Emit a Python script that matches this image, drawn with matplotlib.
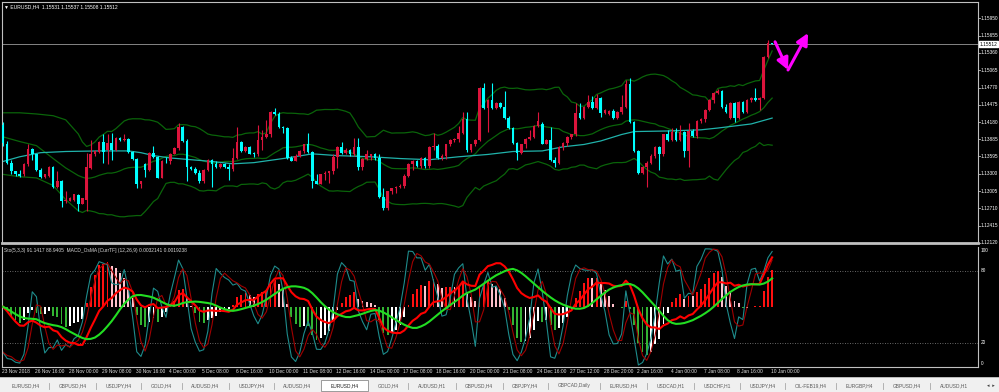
import numpy as np
import pandas as pd
import matplotlib
matplotlib.use("Agg")
import matplotlib.pyplot as plt
from matplotlib.transforms import blended_transform_factory as blend
from matplotlib.patches import Rectangle

plt.rcParams['font.family'] = ['Liberation Sans', 'DejaVu Sans']

# EURUSD H4 candles, 23 Nov 2018 -> 10 Jan 2019
opens = [1.1414, 1.1380, 1.1349, 1.1334, 1.1330, 1.1329, 1.1346, 1.1373, 1.1363, 1.1337,
         1.1325, 1.1327, 1.1342, 1.1308, 1.1318, 1.1283, 1.1284, 1.1286, 1.1293, 1.1279,
         1.1286, 1.1340, 1.1363, 1.1368, 1.1385, 1.1371, 1.1383, 1.1371, 1.1391, 1.1388,
         1.1390, 1.1368, 1.1356, 1.1313, 1.1347, 1.1337, 1.1366, 1.1359, 1.1323, 1.1352,
         1.1351, 1.1364, 1.1374, 1.1410, 1.1386, 1.1342, 1.1339, 1.1332, 1.1317, 1.1337,
         1.1354, 1.1347, 1.1342, 1.1347, 1.1342, 1.1339, 1.1357, 1.1385, 1.1369, 1.1376,
         1.1366, 1.1364, 1.1388, 1.1393, 1.1397, 1.1436, 1.1432, 1.1410, 1.1408, 1.1357,
         1.1352, 1.1361, 1.1369, 1.1380, 1.1368, 1.1317, 1.1313, 1.1329, 1.1332, 1.1334,
         1.1359, 1.1376, 1.1366, 1.1371, 1.1363, 1.1376, 1.1342, 1.1356, 1.1361, 1.1363,
         1.1357, 1.1291, 1.1272, 1.1300, 1.1305, 1.1308, 1.1310, 1.1327, 1.1347, 1.1351,
         1.1344, 1.1357, 1.1344, 1.1376, 1.1378, 1.1357, 1.1361, 1.1380, 1.1388, 1.1390,
         1.1400, 1.1424, 1.1371, 1.1380, 1.1388, 1.1476, 1.1442, 1.1456, 1.1442, 1.1451,
         1.1444, 1.1425, 1.1408, 1.1383, 1.1366, 1.1380, 1.1390, 1.1393, 1.1412, 1.1415,
         1.1381, 1.1388, 1.1354, 1.1349, 1.1376, 1.1383, 1.1393, 1.1397, 1.1434, 1.1425,
         1.1444, 1.1453, 1.1442, 1.1459, 1.1434, 1.1432, 1.1437, 1.1425, 1.1436, 1.1444,
         1.1483, 1.1419, 1.1369, 1.1332, 1.1342, 1.1349, 1.1361, 1.1376, 1.1363, 1.1397,
         1.1388, 1.1402, 1.1388, 1.1402, 1.1369, 1.1403, 1.1395, 1.1420, 1.1424, 1.1439,
         1.1456, 1.1468, 1.1471, 1.1444, 1.1425, 1.1451, 1.1425, 1.1453, 1.1436, 1.1456,
         1.1459, 1.1456, 1.1459, 1.1529, 1.15531]
highs = [1.1419, 1.1386, 1.1354, 1.1335, 1.1337, 1.1349, 1.1381, 1.1374, 1.1364, 1.1340,
         1.1330, 1.1344, 1.1344, 1.1334, 1.1320, 1.1301, 1.1291, 1.1296, 1.1296, 1.1289,
         1.1366, 1.1388, 1.1371, 1.1386, 1.1398, 1.1398, 1.1400, 1.1393, 1.1393, 1.1398,
         1.1391, 1.1369, 1.1357, 1.1318, 1.1349, 1.1368, 1.1378, 1.1361, 1.1354, 1.1359,
         1.1366, 1.1376, 1.1417, 1.1412, 1.1390, 1.1344, 1.1342, 1.1337, 1.1339, 1.1356,
         1.1356, 1.1351, 1.1349, 1.1349, 1.1346, 1.1374, 1.1410, 1.1386, 1.1378, 1.1378,
         1.1368, 1.1414, 1.1405, 1.1422, 1.1437, 1.1442, 1.1436, 1.1412, 1.1410, 1.1361,
         1.1363, 1.1371, 1.1381, 1.1400, 1.1369, 1.1329, 1.1330, 1.1334, 1.1334, 1.1363,
         1.1378, 1.1385, 1.1374, 1.1373, 1.1391, 1.1391, 1.1357, 1.1371, 1.1364, 1.1366,
         1.1363, 1.1305, 1.1301, 1.1306, 1.1310, 1.1312, 1.1329, 1.1349, 1.1354, 1.1354,
         1.1359, 1.1359, 1.1378, 1.1400, 1.1380, 1.1363, 1.1381, 1.1390, 1.1391, 1.1412,
         1.1436, 1.1436, 1.1381, 1.1390, 1.1478, 1.1485, 1.1458, 1.1485, 1.1453, 1.1453,
         1.1471, 1.1429, 1.1410, 1.1385, 1.1381, 1.1391, 1.1405, 1.1414, 1.1436, 1.1419,
         1.1390, 1.1410, 1.1359, 1.1378, 1.1385, 1.1395, 1.1398, 1.1451, 1.1451, 1.1446,
         1.1465, 1.1463, 1.1466, 1.1461, 1.1441, 1.1439, 1.1441, 1.1437, 1.1465, 1.1490,
         1.1493, 1.1420, 1.1371, 1.1344, 1.1351, 1.1363, 1.1378, 1.1378, 1.1398, 1.1405,
         1.1408, 1.1408, 1.1414, 1.1403, 1.1417, 1.1407, 1.1422, 1.1425, 1.1441, 1.1458,
         1.1470, 1.1475, 1.1473, 1.1449, 1.1453, 1.1453, 1.1454, 1.1454, 1.1458, 1.1461,
         1.1476, 1.1461, 1.1531, 1.1558, 1.15537]
lows = [1.1378, 1.1346, 1.1329, 1.1327, 1.1325, 1.1327, 1.1344, 1.1354, 1.1335, 1.1323,
        1.1323, 1.1325, 1.1306, 1.1306, 1.1274, 1.1281, 1.1283, 1.1284, 1.1266, 1.1278,
        1.1266, 1.1339, 1.1361, 1.1366, 1.1349, 1.1346, 1.1354, 1.1369, 1.1386, 1.1386,
        1.1366, 1.1354, 1.1306, 1.1306, 1.1325, 1.1335, 1.1357, 1.1322, 1.1322, 1.1349,
        1.1347, 1.1363, 1.1371, 1.1385, 1.1317, 1.1337, 1.1330, 1.1315, 1.1315, 1.1334,
        1.1308, 1.1340, 1.1340, 1.1340, 1.1320, 1.1335, 1.1356, 1.1368, 1.1368, 1.1363,
        1.1359, 1.1361, 1.1371, 1.1391, 1.1393, 1.1431, 1.1408, 1.1400, 1.1356, 1.1351,
        1.1351, 1.1359, 1.1366, 1.1366, 1.1306, 1.1312, 1.1312, 1.1320, 1.1315, 1.1329,
        1.1340, 1.1364, 1.1364, 1.1361, 1.1361, 1.1337, 1.1337, 1.1354, 1.1354, 1.1354,
        1.1289, 1.1269, 1.1269, 1.1295, 1.1298, 1.1306, 1.1305, 1.1325, 1.1337, 1.1342,
        1.1340, 1.1340, 1.1340, 1.1371, 1.1356, 1.1354, 1.1356, 1.1378, 1.1385, 1.1385,
        1.1398, 1.1368, 1.1368, 1.1378, 1.1386, 1.1441, 1.1402, 1.1441, 1.1441, 1.1442,
        1.1424, 1.1407, 1.1381, 1.1354, 1.1364, 1.1374, 1.1388, 1.1391, 1.1410, 1.1380,
        1.1380, 1.1352, 1.1342, 1.1347, 1.1371, 1.1378, 1.1390, 1.1395, 1.1424, 1.1424,
        1.1442, 1.1441, 1.1441, 1.1427, 1.1432, 1.1431, 1.1424, 1.1424, 1.1432, 1.1442,
        1.1417, 1.1368, 1.1329, 1.1329, 1.1308, 1.1347, 1.1357, 1.1337, 1.1361, 1.1386,
        1.1386, 1.1386, 1.1386, 1.1359, 1.1342, 1.1393, 1.1391, 1.1417, 1.1419, 1.1437,
        1.1451, 1.1466, 1.1442, 1.1434, 1.1424, 1.1419, 1.1424, 1.1434, 1.1434, 1.1453,
        1.1454, 1.1439, 1.1458, 1.1527, 1.15508]
closes = [1.1383, 1.1349, 1.1334, 1.1329, 1.1327, 1.1347, 1.1373, 1.1363, 1.1337, 1.1325,
          1.1329, 1.1342, 1.1308, 1.1318, 1.1283, 1.1286, 1.1288, 1.1295, 1.1279, 1.1288,
          1.1342, 1.1364, 1.1369, 1.1385, 1.1368, 1.1383, 1.1371, 1.1391, 1.1388, 1.1390,
          1.1368, 1.1356, 1.1313, 1.1317, 1.1337, 1.1366, 1.1359, 1.1323, 1.1352, 1.1351,
          1.1364, 1.1374, 1.1410, 1.1386, 1.1342, 1.1339, 1.1332, 1.1317, 1.1337, 1.1354,
          1.1347, 1.1342, 1.1347, 1.1342, 1.1339, 1.1357, 1.1385, 1.1369, 1.1376, 1.1364,
          1.1364, 1.1388, 1.1393, 1.1397, 1.1436, 1.1432, 1.1410, 1.1408, 1.1357, 1.1352,
          1.1361, 1.1369, 1.1380, 1.1368, 1.1317, 1.1313, 1.1329, 1.1332, 1.1334, 1.1359,
          1.1376, 1.1366, 1.1371, 1.1363, 1.1376, 1.1342, 1.1356, 1.1363, 1.1363, 1.1357,
          1.1291, 1.1272, 1.1300, 1.1305, 1.1308, 1.1310, 1.1327, 1.1347, 1.1351, 1.1344,
          1.1357, 1.1344, 1.1376, 1.1378, 1.1357, 1.1361, 1.1380, 1.1388, 1.1390, 1.1400,
          1.1424, 1.1371, 1.1380, 1.1388, 1.1476, 1.1442, 1.1456, 1.1442, 1.1451, 1.1444,
          1.1425, 1.1408, 1.1383, 1.1366, 1.1380, 1.1390, 1.1393, 1.1412, 1.1420, 1.1381,
          1.1388, 1.1354, 1.1349, 1.1376, 1.1383, 1.1393, 1.1397, 1.1434, 1.1425, 1.1444,
          1.1453, 1.1442, 1.1459, 1.1434, 1.1439, 1.1437, 1.1425, 1.1436, 1.1444, 1.1483,
          1.1419, 1.1369, 1.1332, 1.1342, 1.1349, 1.1361, 1.1376, 1.1363, 1.1397, 1.1388,
          1.1402, 1.1388, 1.1402, 1.1369, 1.1403, 1.1395, 1.1420, 1.1424, 1.1439, 1.1456,
          1.1468, 1.1471, 1.1444, 1.1436, 1.1451, 1.1425, 1.1453, 1.1436, 1.1456, 1.1459,
          1.1456, 1.1459, 1.1529, 1.1553, 1.15512]

# bollinger bands before the first full 20-bar window
bb_head_bars = [0, 4, 8, 12, 15, 18]
bb_head_upper = [1.1434, 1.1434, 1.1432, 1.1429, 1.1422, 1.1398]
bb_head_mid = [1.1393, 1.1385, 1.1378, 1.1356, 1.1340, 1.1327]
bb_head_lower = [1.1329, 1.1325, 1.1323, 1.1310, 1.1286, 1.1267]

# slow moving average (cyan line)
ma_bars = [0, 4, 9, 15, 23, 30, 33, 36, 40, 45, 50, 55, 60, 68, 74, 80, 88, 95, 102,
           109, 116, 122, 129, 134, 139, 143, 148, 151, 159, 167, 171, 179, 184]
ma_vals = [1.1351, 1.1359, 1.1366, 1.1368, 1.1369, 1.1369, 1.1366, 1.1361, 1.1357, 1.1354,
           1.1351, 1.1347, 1.1349, 1.1357, 1.1364, 1.1361, 1.1359, 1.1356, 1.1354, 1.1359,
           1.1363, 1.1368, 1.1369, 1.1376, 1.1380, 1.1386, 1.1397, 1.1402, 1.1403, 1.1405,
           1.1408, 1.1415, 1.1425]

time_labels = ["23 Nov 2018", "26 Nov 16:00", "28 Nov 00:00", "29 Nov 08:00", "30 Nov 16:00",
               "4 Dec 00:00", "5 Dec 08:00", "6 Dec 16:00", "10 Dec 00:00", "11 Dec 08:00",
               "12 Dec 16:00", "14 Dec 00:00", "17 Dec 08:00", "18 Dec 16:00", "20 Dec 00:00",
               "21 Dec 08:00", "24 Dec 16:00", "27 Dec 12:00", "28 Dec 20:00", "2 Jan 16:00",
               "4 Jan 00:00", "7 Jan 08:00", "8 Jan 16:00", "10 Jan 00:00"]
price_ticks = [1.15950, 1.15655, 1.15360, 1.15065, 1.14770, 1.14475, 1.14180,
               1.13885, 1.13595, 1.13300, 1.13005, 1.12710, 1.12415, 1.12120]
last_price = 1.15512

# hand-drawn arrow on the chart (bar, price)
arrow_path = [(184.7, 1.1555), (187.8, 1.1507), (192.6, 1.1570)]

tabs = ["EURUSD,H4", "GBPUSD,H4", "USDJPY,H4", "GOLD,H4", "AUDUSD,H4", "USDJPY,H4",
        "AUDUSD,H4", "EURUSD,H4", "GOLD,H4", "AUDUSD,H1", "GBPUSD,H4", "GBPJPY,H4",
        "GBPCAD,Daily", "EURUSD,H4", "USDCAD,H1", "USDCHF,H1", "USDJPY,H4", "OIL-FEB19,H4",
        "EURGBP,H4", "GBPUSD,H4", "AUDUSD,H1"]
active_tab = 7

W, H = 999, 392
n = len(closes)
x = np.arange(n)
o = np.array(opens); h = np.array(highs); l = np.array(lows); c = np.array(closes)

fig = plt.figure(figsize=(W / 100, H / 100), dpi=100, facecolor="black")
ax = fig.add_axes([2 / W, 1 - 243 / H, 976 / W, 241 / H], facecolor="black")
sub = fig.add_axes([2 / W, 1 - 367 / H, 976 / W, 120 / H], facecolor="black")

xmin, xmax = -0.24, 233.25
ax.set_xlim(xmin, xmax)
ax.set_ylim(1.12120, 1.16229)
sub.set_xlim(xmin, xmax)
sub.set_ylim(0, 99.6)
for a in (ax, sub):
    a.set_xticks([])
    a.set_yticks([])
    for s in a.spines.values():
        s.set_color("#c0c0c0")
        s.set_linewidth(0.8)
ax.spines["bottom"].set_linewidth(2)
sub.spines["top"].set_visible(False)

# candles: crimson = up, cyan = down
col = np.where(c > o, "#dc143c", "#00ffff")
ax.vlines(x, l, h, colors=col, lw=0.8, zorder=3)
ax.bar(x, np.maximum(np.abs(c - o), 0.00004), bottom=np.minimum(o, c), width=0.62,
       color=col, linewidth=0, zorder=4)

# bollinger bands (20, 2)
cs = pd.Series(closes)
mid = cs.rolling(20).mean()
sd = cs.rolling(20).std(ddof=0)
bx = bb_head_bars + list(range(19, n))
for head, line in [(bb_head_upper, mid + 2 * sd), (bb_head_mid, mid), (bb_head_lower, mid - 2 * sd)]:
    ax.plot(bx, head + list(line[19:]), color="#0a640a", lw=0.9, zorder=2)

ax.plot(ma_bars, ma_vals, color="#20b2aa", lw=0.9, zorder=2)
ax.axhline(last_price, color="#9a9a9a", lw=0.6, zorder=1)

for p0, p1 in zip(arrow_path[:-1], arrow_path[1:]):
    ax.annotate("", xy=p1, xytext=p0, zorder=6,
                arrowprops=dict(arrowstyle="-|>,head_length=0.7,head_width=0.35",
                                color="#ff00ff", lw=2.2, shrinkA=0, shrinkB=0,
                                mutation_scale=10))

# price scale
tr = blend(ax.transAxes, ax.transData)
for p in price_ticks:
    ax.plot([1.0, 1.0025], [p, p], color="#c0c0c0", lw=0.6, transform=tr, clip_on=False)
    ax.text(1.003, p, f"{p:.5f}", transform=tr, va="center", ha="left",
            fontsize=3.4, color="white", clip_on=False)
ax.text(1.0015, last_price, f"{last_price:.5f}", transform=tr, va="center", ha="left",
        fontsize=3.4, color="black", clip_on=False,
        bbox=dict(boxstyle="square,pad=0.15", fc="white", ec="white"))

# oscillator window: stochastic (5,3,3) + MACD OsMA (12,26,9)
hs = pd.Series(highs); ls = pd.Series(lows)
hh = hs.rolling(5, min_periods=1).max()
ll = ls.rolling(5, min_periods=1).min()
k = 100 * (cs - ll).rolling(3, min_periods=1).sum() / (hh - ll).rolling(3, min_periods=1).sum()
d = k.rolling(3, min_periods=1).mean()
macd = cs.ewm(span=12, adjust=False).mean() - cs.ewm(span=26, adjust=False).mean()
sig = macd.rolling(9, min_periods=1).mean()
osma = (macd - sig).values
line_k = 41 / np.abs(macd).max()
hist_k = 40 / np.abs(osma).max()

hcol = []
for i in range(n):
    prev = osma[i - 1] if i > 0 else osma[i]
    if osma[i] >= 0:
        hcol.append("#ff1010" if osma[i] >= prev else "#ffc0cb")
    else:
        hcol.append("#32b432" if osma[i] < prev else "#ffffff")

for lev in (20, 80):
    sub.axhline(lev, color="#8a8a8a", lw=0.6, ls=(0, (1, 2)), zorder=0.5)
sub.bar(x, osma * hist_k, bottom=50, width=0.45, color=hcol, linewidth=0, zorder=1)
sub.plot(x, k, color="#1e8c8c", lw=0.8, zorder=2)
sub.plot(x, d, color="#a00000", lw=0.8, zorder=2)
sub.plot(x, 50 + macd * line_k, color="#ff0000", lw=1.5, zorder=3)
sub.plot(x, 50 + sig * line_k, color="#22dd22", lw=1.5, zorder=3)

trs = blend(sub.transAxes, sub.transData)
for lev, lab in [(97, "100"), (80, "80"), (20, "20"), (2.5, "0")]:
    sub.text(1.003, lev, lab, transform=trs, va="center", ha="left",
             fontsize=3.4, color="white", clip_on=False)

trx = blend(sub.transData, sub.transAxes)
for i, lab in enumerate(time_labels):
    sub.text(i * 8 - 0.3, -0.02, lab, transform=trx, va="top", ha="left",
             fontsize=3.5, color="#e0e0e0", clip_on=False)

fig.text(4 / W, 1 - 6.5 / H, "\u25bc EURUSD,H4  1.15531 1.15537 1.15508 1.15512",
         fontsize=3.6, color="white", va="center", ha="left")
fig.text(4 / W, 1 - 251 / H,
         "Sto(5,3,3) 91.1417 88.9405  MACD_OsMA [CurrTF] (12,26,9) 0.0032141 0.0019238",
         fontsize=3.5, color="#d8d8d8", va="center", ha="left")

# tab bar
tab = fig.add_axes([0, 0, 1, 15 / H])
tab.set_xlim(0, W)
tab.set_ylim(0, 15)
tab.axis("off")
tab.add_patch(Rectangle((0, 0), W, 15, color="#f0f0f0", zorder=0))
tab.plot([0, W], [14.6, 14.6], color="#b0b0b0", lw=0.6)
r = fig.canvas.get_renderer()
tx = 2
for i, name in enumerate(tabs):
    t = tab.text(tx + 9.5, 6.5, name, fontsize=3.5, color="#5a5a5a", va="center", ha="left")
    w = t.get_window_extent(r).width
    tx1 = tx + w + 19
    if i == active_tab:
        tab.add_patch(Rectangle((tx, 1.5), tx1 - tx, 11, fc="white", ec="#8c8c8c", lw=0.6, zorder=1))
        t.set_color("#202020")
    elif i + 1 != active_tab and i + 1 < len(tabs):
        tab.plot([tx1, tx1], [3.5, 9.5], color="#a8a8a8", lw=0.6)
    tx = tx1
tab.text(991, 6.5, "\u25c2  \u25b8", fontsize=3.6, color="#404040", va="center", ha="center")

fig.savefig("out.png", dpi=100, facecolor="black")
